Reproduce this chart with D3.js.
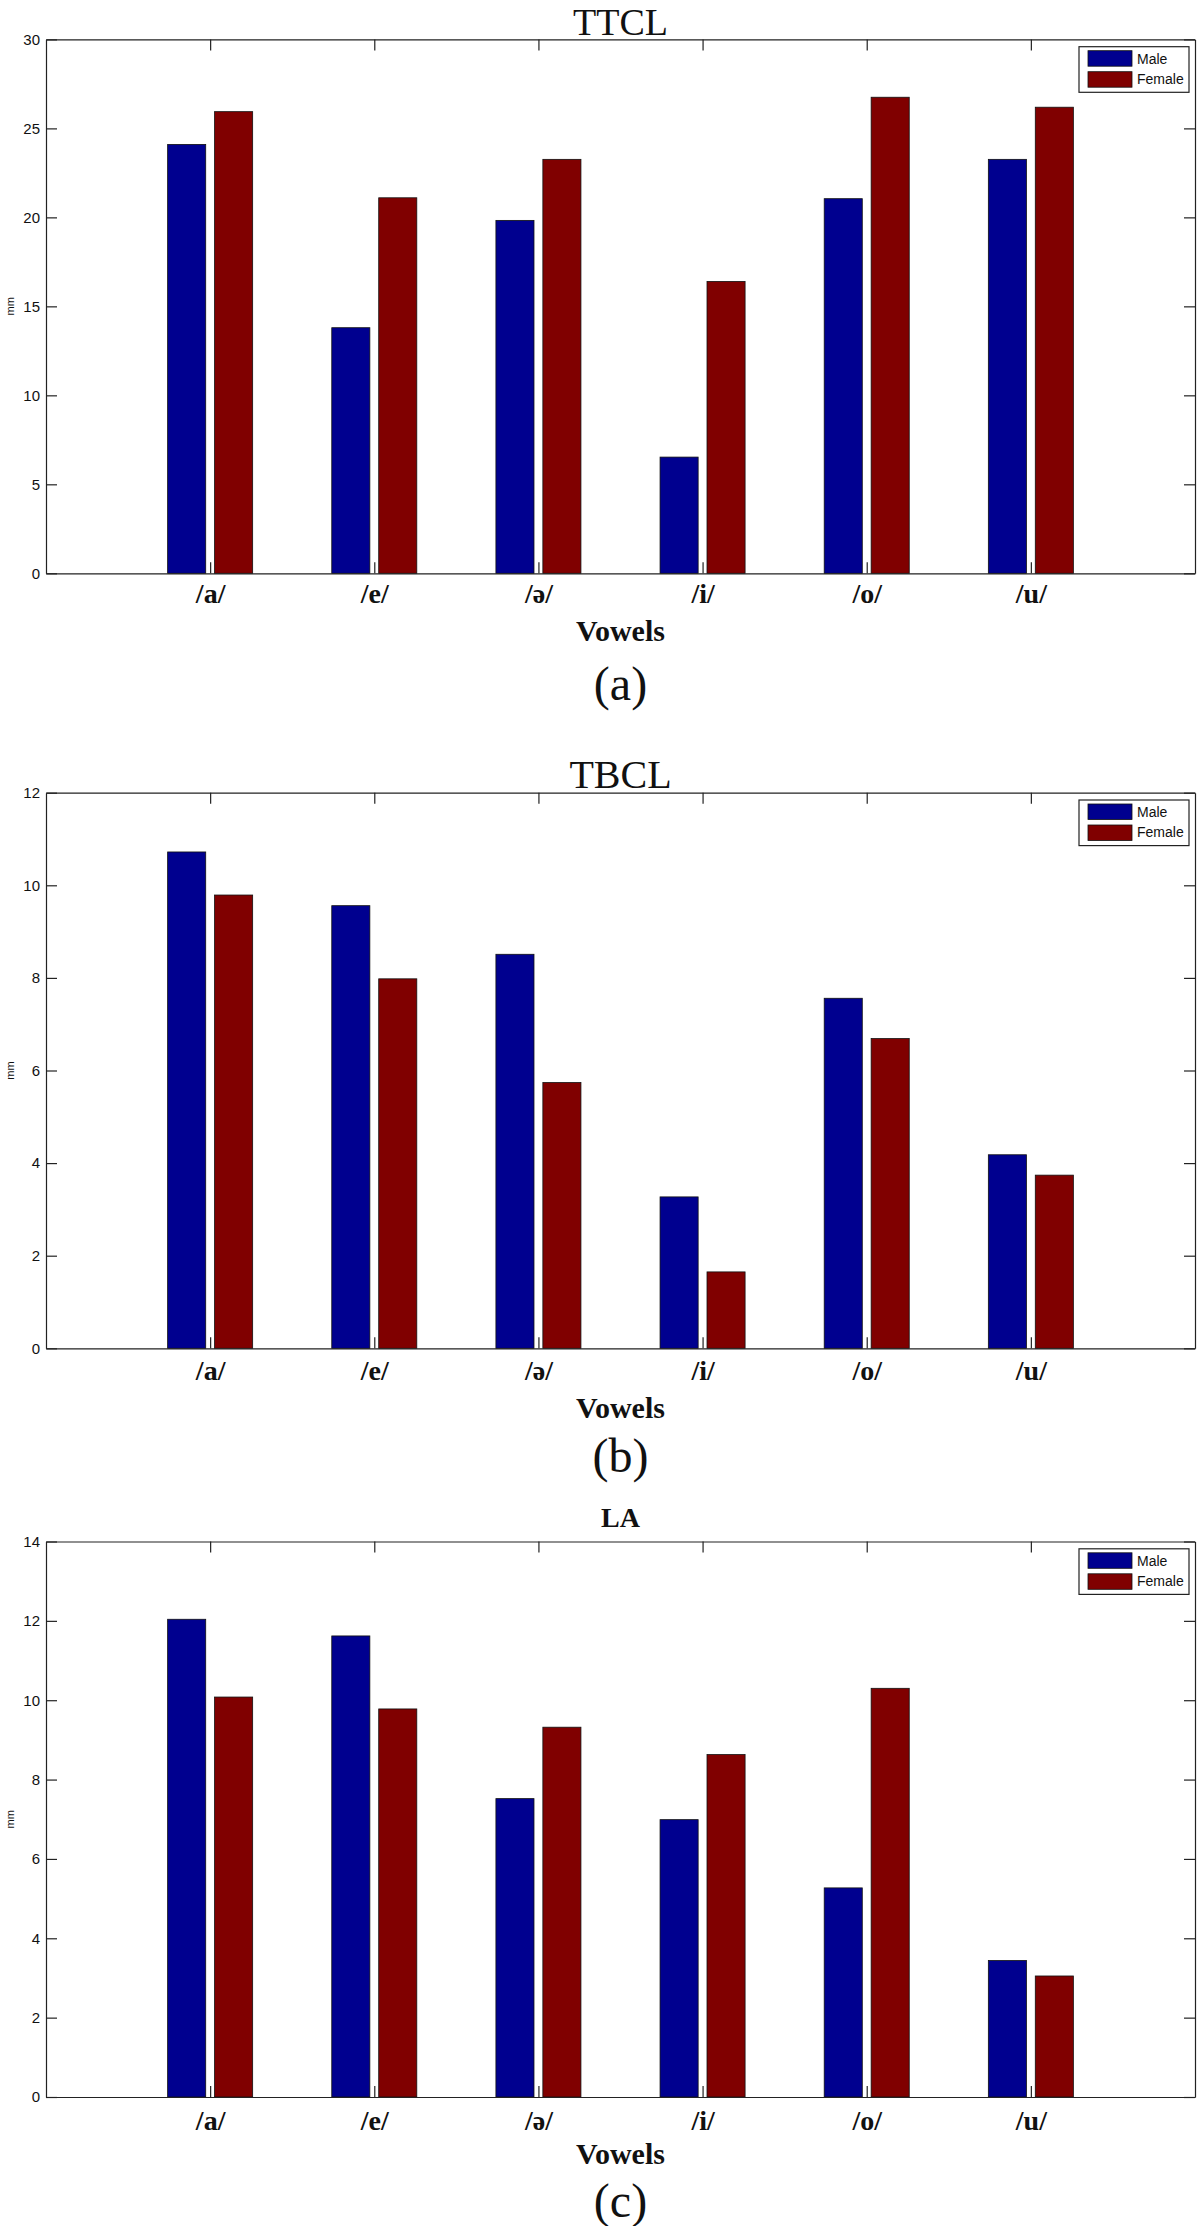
<!DOCTYPE html>
<html>
<head>
<meta charset="utf-8">
<script src="https://cdn.jsdelivr.net/npm/d3@7"></script>
<style>
  html, body { margin: 0; padding: 0; background: #fff; }
  svg { display: block; }
</style>
</head>
<body>
<svg id="chart" width="1200" height="2226"></svg>
<script>
// ---- Data ----
const categories = ["/a/", "/e/", "/ə/", "/i/", "/o/", "/u/"];
const seriesNames = ["Male", "Female"];

const ttclMale   = [24.10, 13.80, 19.83, 6.53, 21.05, 23.26];
const ttclFemale = [25.94, 21.10, 23.26, 16.40, 26.75, 26.19];

const tbclMale   = [10.72, 9.56, 8.51, 3.27, 7.56, 4.18];
const tbclFemale = [9.79, 7.98, 5.74, 1.65, 6.69, 3.74];

const laMale     = [12.04, 11.62, 7.52, 6.99, 5.27, 3.44];
const laFemale   = [10.08, 9.78, 9.32, 8.63, 10.30, 3.05];

const ttclTicks = [0, 5, 10, 15, 20, 25, 30];
const tbclTicks = [0, 2, 4, 6, 8, 10, 12];
const laTicks   = [0, 2, 4, 6, 8, 10, 12, 14];

const panelTitles = ["TTCL", "TBCL", "LA"];
const panelLetters = ["(a)", "(b)", "(c)"];
const xAxisTitle = "Vowels";
const yAxisTitle = "mm";

// ---- Layout ----
const colors = ["#00008f", "#800000"];
const serif = "'Liberation Serif', 'Times New Roman', serif";
const sans = "'Liberation Sans', Arial, sans-serif";

const panels = [
  { male: ttclMale, female: ttclFemale, ticks: ttclTicks, ymax: 30, top: 39.4, bottom: 573.3,
    title: panelTitles[0], titleY: 22, titleSize: 38, titleWeight: "normal",
    labelY: 593, vowelsY: 630, letter: panelLetters[0], letterY: 683 },
  { male: tbclMale, female: tbclFemale, ticks: tbclTicks, ymax: 12, top: 792.7, bottom: 1348.3,
    title: panelTitles[1], titleY: 774, titleSize: 40, titleWeight: "normal",
    labelY: 1370, vowelsY: 1407, letter: panelLetters[1], letterY: 1455 },
  { male: laMale, female: laFemale, ticks: laTicks, ymax: 14, top: 1541.5, bottom: 2097,
    title: panelTitles[2], titleY: 1517, titleSize: 28, titleWeight: "bold",
    labelY: 2120, vowelsY: 2153, letter: panelLetters[2], letterY: 2200 }
];

const left = 46, right = 1195;
const barOffset = 0.143, barW = 0.232;
const axisColor = "#222";

const svg = d3.select("#chart");
svg.append("rect").attr("width", 1200).attr("height", 2226).attr("fill", "#fff");

const x = d3.scaleLinear().domain([0, 7]).range([left, right]);

panels.forEach(p => {
  const g = svg.append("g");
  const y = d3.scaleLinear().domain([0, p.ymax]).range([p.bottom, p.top]);

  // bars
  const rows = categories.map((c, i) => ({ i, vals: [p.male[i], p.female[i]] }));
  rows.forEach(r => {
    r.vals.forEach((v, s) => {
      const cx = r.i + 1 + (s === 0 ? -barOffset : barOffset);
      g.append("rect")
        .attr("x", x(cx - barW / 2))
        .attr("width", x(cx + barW / 2) - x(cx - barW / 2))
        .attr("y", y(v))
        .attr("height", y(0) - y(v))
        .attr("fill", colors[s])
        .attr("stroke", "#111")
        .attr("stroke-width", 0.8);
    });
  });

  // axes
  const styleAxis = sel => {
    sel.selectAll("path.domain").attr("stroke", axisColor).attr("stroke-width", 1.2);
    sel.selectAll(".tick line").attr("stroke", axisColor).attr("stroke-width", 1.2);
  };

  const yl = g.append("g").attr("transform", `translate(${left},0)`)
    .call(d3.axisLeft(y).tickValues(p.ticks).tickSizeInner(-11).tickSizeOuter(0).tickPadding(6).tickFormat(d3.format("d")));
  styleAxis(yl);
  yl.selectAll("text").attr("font-family", sans).attr("font-size", 15).attr("fill", "#111");

  const yr = g.append("g").attr("transform", `translate(${right},0)`)
    .call(d3.axisRight(y).tickValues(p.ticks).tickSizeInner(-11).tickSizeOuter(0).tickFormat(""));
  styleAxis(yr);

  const xt = g.append("g").attr("transform", `translate(0,${p.top})`)
    .call(d3.axisTop(x).tickValues(d3.range(1, 7)).tickSizeInner(-11).tickSizeOuter(0).tickFormat(""));
  styleAxis(xt);

  const xb = g.append("g").attr("transform", `translate(0,${p.bottom})`)
    .call(d3.axisBottom(x).tickValues(d3.range(1, 7)).tickSizeInner(-11).tickSizeOuter(0)
      .tickFormat(d => categories[d - 1]));
  styleAxis(xb);
  xb.selectAll("text")
    .attr("y", p.labelY - p.bottom).attr("dy", "0.35em")
    .attr("font-family", serif).attr("font-weight", "bold").attr("font-size", 28).attr("fill", "#111");

  // title
  g.append("text").attr("x", (left + right) / 2).attr("y", p.titleY).attr("dy", "0.35em")
    .attr("text-anchor", "middle").attr("font-family", serif)
    .attr("font-weight", p.titleWeight).attr("font-size", p.titleSize).attr("fill", "#111")
    .text(p.title);

  // x axis title
  g.append("text").attr("x", (left + right) / 2).attr("y", p.vowelsY).attr("dy", "0.35em")
    .attr("text-anchor", "middle").attr("font-family", serif).attr("font-weight", "bold")
    .attr("font-size", 30).attr("fill", "#111").text(xAxisTitle);

  // panel letter
  g.append("text").attr("x", (left + right) / 2).attr("y", p.letterY).attr("dy", "0.35em")
    .attr("text-anchor", "middle").attr("font-family", serif)
    .attr("font-size", 48).attr("fill", "#111").text(p.letter);

  // y axis title
  g.append("text")
    .attr("transform", `translate(10,${(p.top + p.bottom) / 2}) rotate(-90)`)
    .attr("text-anchor", "middle").attr("dy", "0.35em")
    .attr("font-family", sans).attr("font-size", 11).attr("fill", "#111").text(yAxisTitle);

  // legend
  const lg = g.append("g").attr("transform", `translate(1079,${p.top + 7.3})`);
  lg.append("rect").attr("width", 110).attr("height", 45.6)
    .attr("fill", "#fff").attr("stroke", axisColor).attr("stroke-width", 1.2);
  seriesNames.forEach((name, s) => {
    lg.append("rect").attr("x", 9).attr("y", 4 + s * 21).attr("width", 44).attr("height", 15.5)
      .attr("fill", colors[s]).attr("stroke", "#111").attr("stroke-width", 0.8);
    lg.append("text").attr("x", 58).attr("y", 12 + s * 20.5).attr("dy", "0.35em")
      .attr("font-family", sans).attr("font-size", 14).attr("fill", "#111").text(name);
  });
});
</script>
</body>
</html>
